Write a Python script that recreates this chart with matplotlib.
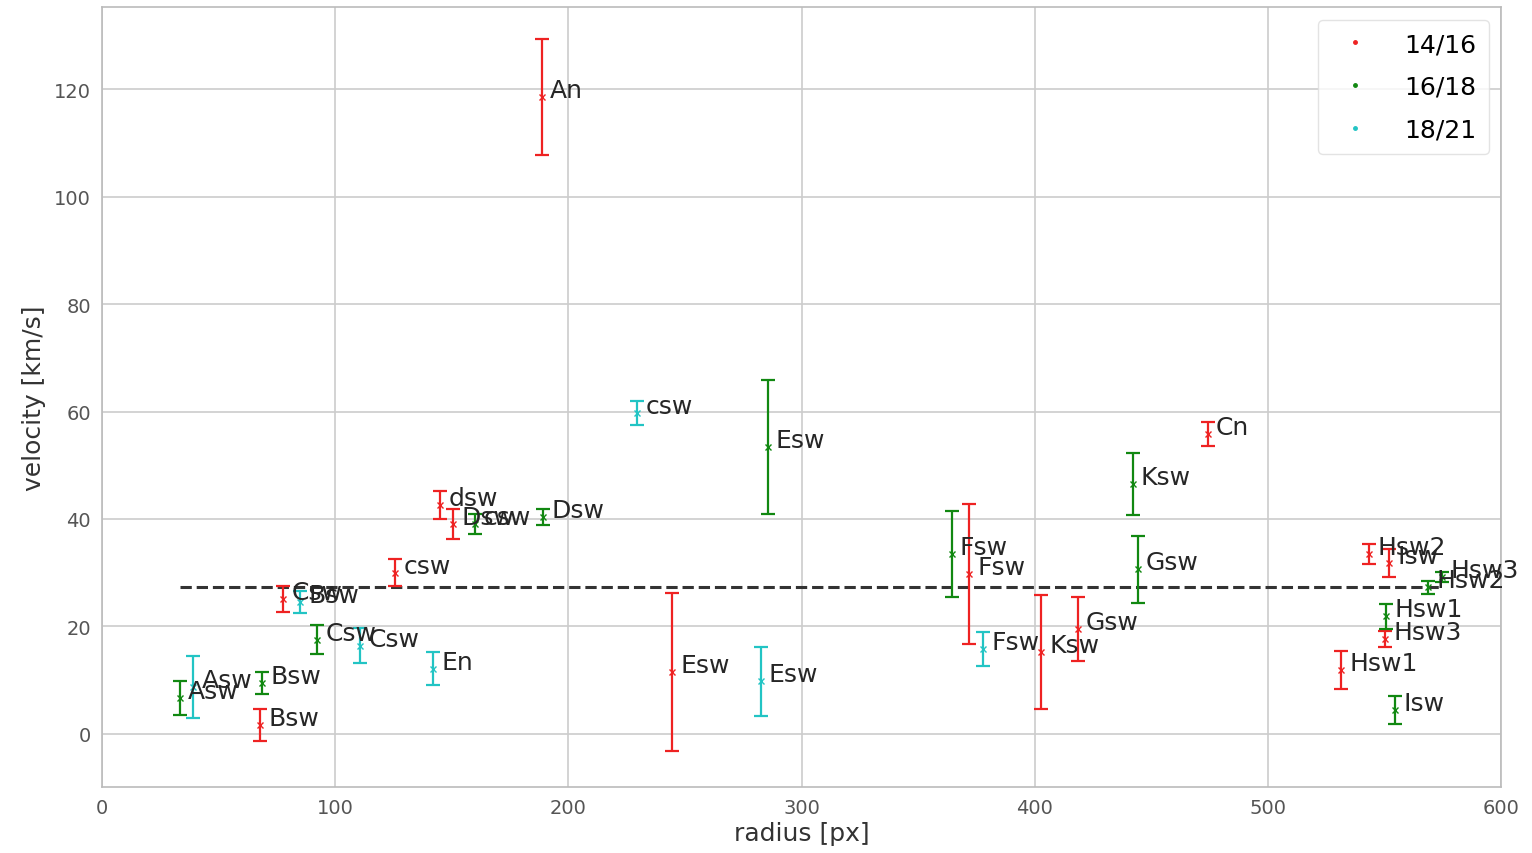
import matplotlib
matplotlib.use("Agg")
import matplotlib.pyplot as plt
from matplotlib.lines import Line2D

# 14/16
r_a = [67.7, 77.6, 125.6, 144.9, 150.4, 188.6, 244.3, 371.6, 402.5, 418.3, 474.0, 531.4, 543.4, 552.0, 550.3]
v_a = [1.7, 25.1, 30.0, 42.6, 39.1, 118.5, 11.5, 29.8, 15.3, 19.5, 55.8, 11.9, 33.5, 31.8, 17.7]
e_a = [3.0, 2.4, 2.5, 2.6, 2.8, 10.8, 14.7, 13.0, 10.6, 5.9, 2.2, 3.5, 1.9, 2.6, 1.5]
lab_a = ['Bsw', 'Csw', 'csw', 'dsw', 'Dsw', 'An', 'Esw', 'Fsw', 'Ksw', 'Gsw', 'Cn', 'Hsw1', 'Hsw2', 'Isw', 'Hsw3']

# 16/18
r_b = [33.4, 68.6, 92.1, 159.9, 189.0, 285.4, 364.3, 441.9, 444.0, 550.7, 568.5, 574.5, 554.6]
v_b = [6.7, 9.5, 17.5, 39.1, 40.4, 53.4, 33.5, 46.5, 30.6, 21.9, 27.3, 29.2, 4.5]
e_b = [3.2, 2.0, 2.7, 1.9, 1.5, 12.5, 8.0, 5.8, 6.2, 2.3, 1.2, 1.0, 2.6]
lab_b = ['Asw', 'Bsw', 'Csw', 'csw', 'Dsw', 'Esw', 'Fsw', 'Ksw', 'Gsw', 'Hsw1', 'Hsw2', 'Hsw3', 'Isw']

# 18/21
r_c = [39.0, 84.9, 110.6, 141.9, 229.3, 282.4, 377.6]
v_c = [8.7, 24.5, 16.4, 12.1, 59.7, 9.8, 15.8]
e_c = [5.8, 2.1, 3.3, 3.1, 2.2, 6.4, 3.1]
lab_c = ['Asw', 'Bsw', 'Csw', 'En', 'csw', 'Esw', 'Fsw']

mean_v = 27.3

series = [
    (r_a, v_a, e_a, lab_a, '#ee2222', '14/16'),
    (r_b, v_b, e_b, lab_b, '#118811', '16/18'),
    (r_c, v_c, e_c, lab_c, '#22c4c4', '18/21'),
]

fig = plt.figure(figsize=(15.32, 8.54), dpi=100)
ax = fig.add_axes([0.0666, 0.0773, 0.9134, 0.9133])

handles = []
for r, v, e, labs, col, name in series:
    ax.errorbar(r, v, yerr=e, fmt='x', color=col, ecolor=col, elinewidth=1.6,
                capsize=5, capthick=1.6, markersize=5, zorder=3)
    for xi, yi, t in zip(r, v, labs):
        ax.annotate(t, (xi, yi), xytext=(6, 0), textcoords='offset points',
                    fontsize=18, color='#262626', zorder=4)
    handles.append(Line2D([], [], ls='none', marker='.', markersize=5, color=col, label=name))

all_r = r_a + r_b + r_c
ax.hlines(mean_v, min(all_r), max(all_r), colors='#333333', linestyles='--', linewidth=2.2, zorder=2)

ax.set_xlim(0, 600)
ax.set_ylim(-9.9, 135.3)
ax.set_xticks(range(0, 601, 100))
ax.set_yticks(range(0, 121, 20))
ax.grid(True, color='#cccccc', linewidth=1.2)
ax.set_axisbelow(True)
for s in ax.spines.values():
    s.set_color('#bbbbbb')
    s.set_linewidth(1.2)
ax.tick_params(axis='both', length=0, labelsize=14, labelcolor='#555555', pad=8)
ax.set_xlabel('radius [px]', fontsize=18, color='#333333', labelpad=3)
ax.set_ylabel('velocity [km/s]', fontsize=18, color='#333333', labelpad=6)

leg = ax.legend(handles=handles, loc='upper right', fontsize=18, frameon=True,
                fancybox=True, edgecolor='#dddddd', borderpad=0.5, handlelength=2.0,
                handletextpad=0.95, labelspacing=0.75, borderaxespad=0.5)

fig.savefig('out.png', dpi=100)
